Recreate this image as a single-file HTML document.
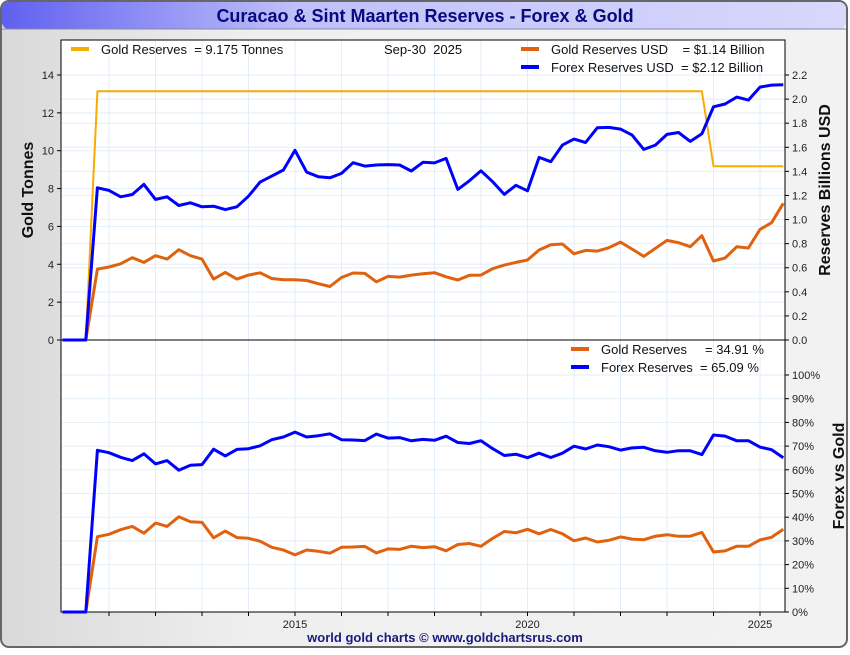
<!DOCTYPE html>
<html><head><meta charset="utf-8"><style>
body{margin:0;width:850px;height:650px;overflow:hidden;font-family:"Liberation Sans",sans-serif;background:#fff}
svg text{font-family:"Liberation Sans",sans-serif;white-space:pre}
</style></head><body>
<svg id="c" width="850" height="650" viewBox="0 0 850 650">
<defs>
<linearGradient id="bg" x1="0" x2="1" y1="0" y2="0"><stop offset="0" stop-color="#d9d9d9"/><stop offset="0.3" stop-color="#efefef"/><stop offset="1" stop-color="#f2f2f2"/></linearGradient>
<linearGradient id="tb" x1="0" x2="1" y1="0" y2="0"><stop offset="0" stop-color="#6060f0"/><stop offset="0.35" stop-color="#c0c0fa"/><stop offset="1" stop-color="#d8d8fc"/></linearGradient>
</defs>
<rect x="1" y="1" width="846" height="646" rx="8" fill="url(#bg)" stroke="#666" stroke-width="2"/>
<rect x="2" y="2" width="844" height="27" rx="7" fill="url(#tb)"/>
<line x1="2" y1="29" x2="846" y2="29" stroke="#8888aa"/>
<text x="425" y="22" text-anchor="middle" font-size="18" font-weight="bold" fill="#0a0a80">Curacao &amp; Sint Maarten Reserves - Forex &amp; Gold</text>
<g id="plot"></g>
</svg>
<script>
const quarters=[2010.0,2010.5];for(let i=0;i<60;i++)quarters.push(2010.75+i*0.25);
const forexUSD=[0,0,1.264,1.242,1.189,1.208,1.292,1.167,1.189,1.117,1.139,1.106,1.111,1.083,1.106,1.194,1.311,1.361,1.411,1.575,1.394,1.356,1.347,1.383,1.472,1.444,1.453,1.456,1.453,1.403,1.475,
1.47,1.508,1.250,1.322,1.405,1.314,1.209,1.284,1.239,1.516,1.480,1.618,1.668,1.640,1.762,1.765,1.751,1.701,1.582,1.618,1.707,1.723,1.649,1.712,1.936,1.959,2.017,1.992,2.100,2.116,2.119];
const goldUSD=[0,0,0.589,0.606,0.633,0.683,0.644,0.700,0.672,0.750,0.700,0.672,0.506,0.561,0.506,0.539,0.558,0.511,0.500,0.500,0.494,0.467,0.444,0.519,0.556,0.553,0.483,0.528,0.522,0.539,0.550,
0.559,0.525,0.498,0.537,0.539,0.592,0.622,0.644,0.664,0.747,0.791,0.797,0.716,0.744,0.738,0.766,0.813,0.755,0.694,0.761,0.827,0.808,0.775,0.866,0.656,0.681,0.775,0.764,0.918,0.974,1.135];
const goldTonnes=[0,0];for(let i=0;i<53;i++)goldTonnes.push(13.14);for(let i=0;i<7;i++)goldTonnes.push(9.175);
const leftTicks=[0,2,4,6,8,10,12,14];
const rightTicks=[0,0.2,0.4,0.6,0.8,1.0,1.2,1.4,1.6,1.8,2.0,2.2];
const pctTicks=[0,10,20,30,40,50,60,70,80,90,100];
const yearTicks=[2011,2012,2013,2014,2015,2016,2017,2018,2019,2020,2021,2022,2023,2024,2025];
const yearLabels=[2015,2020,2025];

const NS="http://www.w3.org/2000/svg";
const g=document.getElementById('plot');
function mk(t,a,p){const e=document.createElementNS(NS,t);for(const k in a)e.setAttribute(k,a[k]);(p||g).appendChild(e);return e;}
const X0=61,X1=785,TT=40,TB=340,BB=612;
const x=v=>295+(v-2015)*46.5;
const yT=v=>340-v*18.93;
const yU=v=>340-v*120.45;
const yP=v=>612-v*2.37;
let e=mk('rect',{x:X0,y:TT,width:X1-X0,height:TB-TT,fill:'#fff'});


e=mk('rect',{x:X0,y:TB,width:X1-X0,height:BB-TB,fill:'#fff'});


yearTicks.forEach(yr=>{mk('line',{x1:x(yr),x2:x(yr),y1:TT,y2:BB,stroke:'#e3eef8'});});
leftTicks.forEach(v=>mk('line',{x1:X0,x2:X1,y1:yT(v),y2:yT(v),stroke:'#e3eef8'}));
rightTicks.forEach(v=>mk('line',{x1:X0,x2:X1,y1:yU(v),y2:yU(v),stroke:'#e3eef8'}));
pctTicks.forEach(v=>mk('line',{x1:X0,x2:X1,y1:yP(v),y2:yP(v),stroke:'#e3eef8'}));
mk('rect',{x:X0,y:TT,width:X1-X0,height:BB-TT,fill:'none',stroke:'#000'});
mk('line',{x1:X0,x2:X1,y1:TB,y2:TB,stroke:'#000'});
leftTicks.forEach(v=>{mk('line',{x1:X0-4,x2:X0,y1:yT(v),y2:yT(v),stroke:'#000'});
 const t=mk('text',{x:X0-7,y:yT(v)+4,'text-anchor':'end','font-size':11,fill:'#222'});t.textContent=v;
 
 });
rightTicks.forEach(v=>{mk('line',{x1:X1,x2:X1+4,y1:yU(v),y2:yU(v),stroke:'#000'});
 const t=mk('text',{x:X1+7,y:yU(v)+4,'font-size':11,fill:'#222'});t.textContent=v.toFixed(1);
 
 });
pctTicks.forEach(v=>{mk('line',{x1:X1,x2:X1+4,y1:yP(v),y2:yP(v),stroke:'#000'});
 const t=mk('text',{x:X1+7,y:yP(v)+4,'font-size':11,fill:'#222'});t.textContent=v+'%';
 
 });
yearTicks.forEach(yr=>mk('line',{x1:x(yr),x2:x(yr),y1:BB,y2:BB+4,stroke:'#000'}));
yearLabels.forEach(yr=>{const t=mk('text',{x:x(yr),y:628,'text-anchor':'middle','font-size':11,fill:'#222'});t.textContent=yr;
 
 });
let t=mk('text',{transform:'translate(33,190) rotate(-90)','text-anchor':'middle','font-size':16,'font-weight':'bold',fill:'#111'});t.textContent='Gold Tonnes';


t=mk('text',{transform:'translate(830,190) rotate(-90)','text-anchor':'middle','font-size':16,'font-weight':'bold',fill:'#111'});t.textContent='Reserves Billions USD';


t=mk('text',{transform:'translate(844,476) rotate(-90)','text-anchor':'middle','font-size':16,'font-weight':'bold',fill:'#111'});t.textContent='Forex vs Gold';


function line(vals,yf,col,w,name){const p=vals.map((v,i)=>(i?'L':'M')+x(quarters[i]).toFixed(1)+','+yf(v).toFixed(1)).join('');
 const el=mk('path',{d:p,fill:'none',stroke:col,'stroke-width':w,'stroke-linejoin':'round'});
 
 }
line(goldTonnes,yT,'#f8ac00',2,'gold-tonnes-line');
line(goldUSD,yU,'#e0620e',3,'gold-usd-line');
line(forexUSD,yU,'#0000ff',3,'forex-usd-line');
const goldPct=goldUSD.map((v,i)=>{const s=v+forexUSD[i];return s?v/s*100:0;});
const forexPct=forexUSD.map((v,i)=>{const s=v+goldUSD[i];return s?v/s*100:0;});
line(goldPct,yP,'#e0620e',3,'gold-pct-line');
line(forexPct,yP,'#0000ff',3,'forex-pct-line');
function leg(x0,y0,col,txt,name){const r=mk('rect',{x:x0,y:y0-2,width:18,height:4,fill:col});
 
 
 const tt=mk('text',{x:x0+30,y:y0+5,'font-size':13,fill:'#111'});tt.textContent=txt;
 
 }
leg(71,49,'#f8ac00','Gold Reserves  = 9.175 Tonnes','legend-gold-tonnes');
leg(521,49,'#e0620e','Gold Reserves USD    = $1.14 Billion','legend-gold-usd');
leg(521,67,'#0000ff','Forex Reserves USD  = $2.12 Billion','legend-forex-usd');
leg(571,349,'#e0620e','Gold Reserves     = 34.91 %','legend-gold-pct');
leg(571,367,'#0000ff','Forex Reserves  = 65.09 %','legend-forex-pct');
t=mk('text',{x:384,y:54,'font-size':13,fill:'#111'});t.textContent='Sep-30  2025';


t=mk('text',{x:445,y:642,'text-anchor':'middle','font-size':13,'font-weight':'bold',fill:'#1a1a80'});t.textContent='world gold charts © www.goldchartsrus.com';


</script>
</body></html>
